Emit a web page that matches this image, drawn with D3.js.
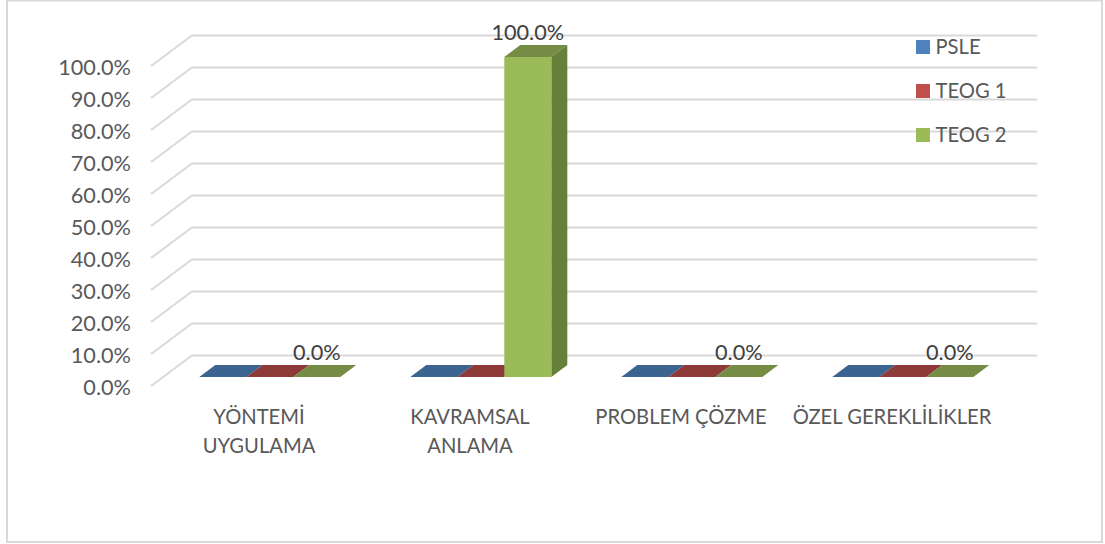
<!DOCTYPE html>
<html><head><meta charset="utf-8">
<style>html,body{margin:0;padding:0;background:#fff}svg{display:block}text{font-family:Lato,"Open Sans",sans-serif}</style>
<script src="https://cdnjs.cloudflare.com/ajax/libs/d3/7.8.5/d3.min.js"></script>
</head><body><svg id="c" width="1105" height="544"></svg>
<script>
const categories = [["YÖNTEMİ","UYGULAMA"],["KAVRAMSAL","ANLAMA"],["PROBLEM ÇÖZME"],["ÖZEL GEREKLİLİKLER"]];
const seriesNames = ["PSLE","TEOG 1","TEOG 2"];
const psle = [0,0,0,0];
const teog1 = [0,0,0,0];
const teog2 = [0,100,0,0];
const tickValues = [0,10,20,30,40,50,60,70,80,90,100];
const front = ["#4F81BD","#C0504D","#9BBB59"];
const topFace = ["#3C6491","#8E3A38","#748C43"];
const sideFace = ["#335578","#7A3230","#667F3A"];

const svg = d3.select("#c");
const L = 151, R = 995, wallDx = 41, wallDy = 30.5, gridEnd = 1037;
const y = d3.scaleLinear().domain([0,100]).range([386,66]);
const x0 = d3.scaleBand().domain(d3.range(categories.length)).range([L,R]);
const barW = 47, gap = 34.5, startDx = 13.8, startDy = 9, depthDx = 16, depthDy = 12;

svg.append("rect").attr("x",7).attr("y",0.5).attr("width",1095).attr("height",541.5)
  .attr("fill","#fff").attr("stroke","#D9D9D9").attr("stroke-width",2);

const grid = svg.append("g").attr("fill","none").attr("stroke","#D9D9D9").attr("stroke-width",2);
tickValues.forEach(t=>{
  const p = d3.path();
  p.moveTo(L,y(t)); p.lineTo(L+wallDx,y(t)-wallDy); p.lineTo(gridEnd,y(t)-wallDy);
  grid.append("path").attr("d",p.toString());
});

svg.append("g").selectAll("text").data(tickValues).join("text")
  .attr("x",131).attr("y",d=>y(d)+1).attr("dy","0.35em").attr("text-anchor","end")
  .attr("font-size",21.7).attr("fill","#595959").text(d=>d.toFixed(1)+"%");

const series = [psle,teog1,teog2];
const bars = svg.append("g");
categories.forEach((c,i)=>{
  series.forEach((vals,s)=>{
    const x = x0(i)+gap+startDx+s*barW, base = y(0)-startDy, t = base-(y(0)-y(vals[i]));
    const pts = a=>a.map(q=>q.join(",")).join(" ");
    if(vals[i]>0){
      bars.append("polygon").attr("fill",sideFace[s]).attr("points",pts([[x+barW,base],[x+barW+depthDx,base-depthDy],[x+barW+depthDx,t-depthDy],[x+barW,t]]));
    }
    bars.append("polygon").attr("fill",topFace[s]).attr("points",pts([[x,t],[x+depthDx,t-depthDy],[x+barW+depthDx,t-depthDy],[x+barW,t]]));
    if(vals[i]>0){
      bars.append("rect").attr("x",x).attr("y",t).attr("width",barW).attr("height",base-t).attr("fill",front[s]);
    }
  });
});
const labels = svg.append("g");
categories.forEach((c,i)=>{
  const v = teog2[i];
  const cx = x0(i)+gap+startDx+2.5*barW;
  const t = y(0)-startDy-(y(0)-y(v));
  labels.append("text").attr("x",cx).attr("y",t-25).attr("dy","0.35em").attr("text-anchor","middle")
    .attr("font-size",21.7).attr("fill","#404040").text(v.toFixed(1)+"%");
  const txt = svg.append("text").attr("text-anchor","middle").attr("font-size",20.2).attr("fill","#595959");
  c.forEach((ln,k)=>txt.append("tspan").attr("x",x0(i)+x0.bandwidth()/2+2.5).attr("y",417+k*29).attr("dy","0.35em").text(ln));
});

const leg = svg.append("g");
seriesNames.forEach((n,s)=>{
  const cy = 47+s*44;
  leg.append("rect").attr("x",916).attr("y",cy-7).attr("width",14).attr("height",14).attr("fill",front[s]);
  leg.append("text").attr("x",935.5).attr("y",cy).attr("dy","0.35em").attr("font-size",20.2).attr("fill","#595959").text(n);
});
</script></body></html>
